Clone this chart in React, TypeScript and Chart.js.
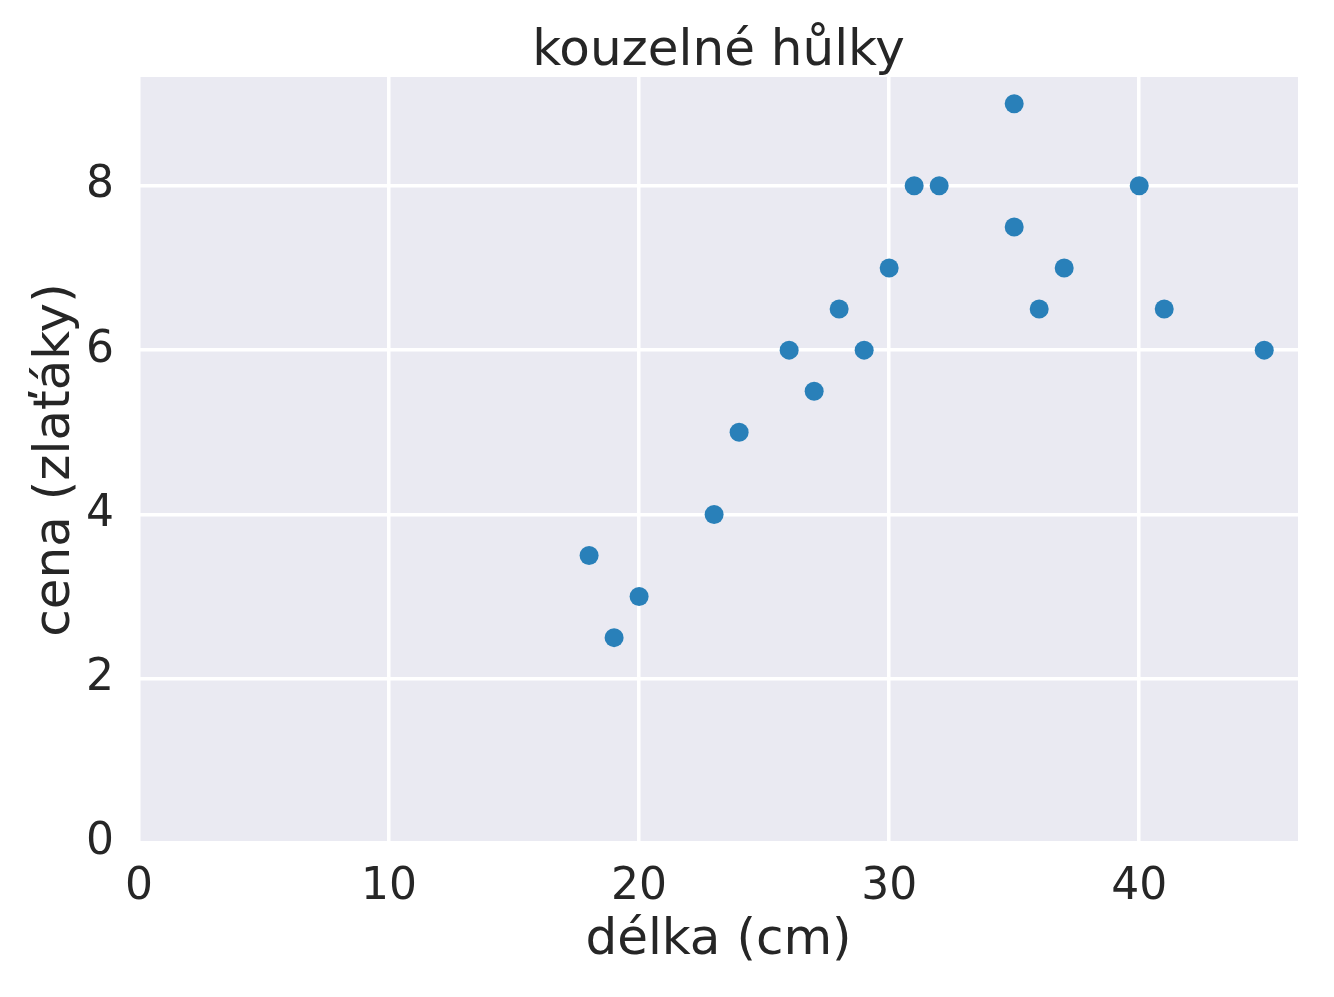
import React, { useEffect, useRef } from "react";
import { Chart, registerables } from "chart.js";

Chart.register(...registerables);

const lengthsCm = [18, 19, 20, 23, 24, 26, 27, 28, 29, 30, 31, 32, 35, 35, 36, 37, 40, 41, 45];
const pricesGold = [3.5, 2.5, 3, 4, 5, 6, 5.5, 6.5, 6, 7, 8, 8, 9, 7.5, 6.5, 7, 8, 6.5, 6];

const xTicks = [0, 10, 20, 30, 40];
const yTicks = [0, 2, 4, 6, 8];

const titleText = "kouzelné hůlky";
const xLabel = "délka (cm)";
const yLabel = "cena (zlaťáky)";

const TEXT = "#262626";
const FONT = "'DejaVu Sans', sans-serif";

const bgPlugin = {
  id: "plotBg",
  beforeDraw(chart: any) {
    const { ctx, chartArea } = chart;
    ctx.save();
    ctx.fillStyle = "#EAEAF2";
    ctx.fillRect(chartArea.left, chartArea.top, chartArea.right - chartArea.left, chartArea.bottom - chartArea.top);
    ctx.restore();
  },
};

const axesTitlePlugin = {
  id: "axesTitle",
  afterDraw(chart: any) {
    const { ctx, chartArea } = chart;
    ctx.save();
    ctx.fillStyle = TEXT;
    ctx.font = `50px ${FONT}`;
    ctx.textAlign = "center";
    ctx.textBaseline = "alphabetic";
    ctx.fillText(titleText, (chartArea.left + chartArea.right) / 2, 65);
    ctx.restore();
  },
};

export default function App() {
  const ref = useRef<HTMLCanvasElement>(null);

  useEffect(() => {
    if (!ref.current) return;
    const points = lengthsCm.map((x, i) => ({ x, y: pricesGold[i] }));
    const chart = new Chart(ref.current, {
      type: "scatter",
      data: {
        datasets: [
          {
            data: points,
            backgroundColor: "#2980b9",
            borderColor: "#2980b9",
            borderWidth: 0,
            pointRadius: 9.5,
          },
        ],
      },
      plugins: [bgPlugin, axesTitlePlugin],
      options: {
        animation: false,
        responsive: false,
        layout: { padding: { left: 0, right: 36, top: 77, bottom: 0 } },
        plugins: {
          legend: { display: false },
          tooltip: { enabled: false },
          title: { display: false },
        },
        scales: {
          x: {
            type: "linear",
            min: 0,
            max: 46.35,
            afterFit(scale: any) {
              scale.height = 154;
            },
            afterBuildTicks(scale: any) {
              scale.ticks = xTicks.map((v) => ({ value: v }));
            },
            grid: { color: "#ffffff", lineWidth: 3.5, drawTicks: false },
            border: { display: false },
            ticks: {
              color: TEXT,
              font: { family: FONT, size: 44 },
              padding: 18,
              maxRotation: 0,
            },
            title: {
              display: true,
              text: xLabel,
              color: TEXT,
              font: { family: FONT, size: 50 },
              padding: { top: 0, bottom: 26 },
            },
          },
          y: {
            type: "linear",
            min: 0,
            max: 9.325,
            afterFit(scale: any) {
              scale.width = 139;
            },
            afterBuildTicks(scale: any) {
              scale.ticks = yTicks.map((v) => ({ value: v }));
            },
            grid: { color: "#ffffff", lineWidth: 3.5, drawTicks: false },
            border: { display: false },
            ticks: {
              color: TEXT,
              font: { family: FONT, size: 44 },
              padding: 25,
            },
            title: {
              display: true,
              text: yLabel,
              color: TEXT,
              font: { family: FONT, size: 50 },
              padding: { top: 26, bottom: 0 },
            },
          },
        },
      },
    });
    return () => chart.destroy();
  }, []);

  return (
    <div style={{ position: "absolute", left: 0, top: 0, width: 1334, height: 997, background: "#fff" }}>
      <canvas ref={ref} width={1334} height={997} style={{ width: 1334, height: 997 }} />
    </div>
  );
}
